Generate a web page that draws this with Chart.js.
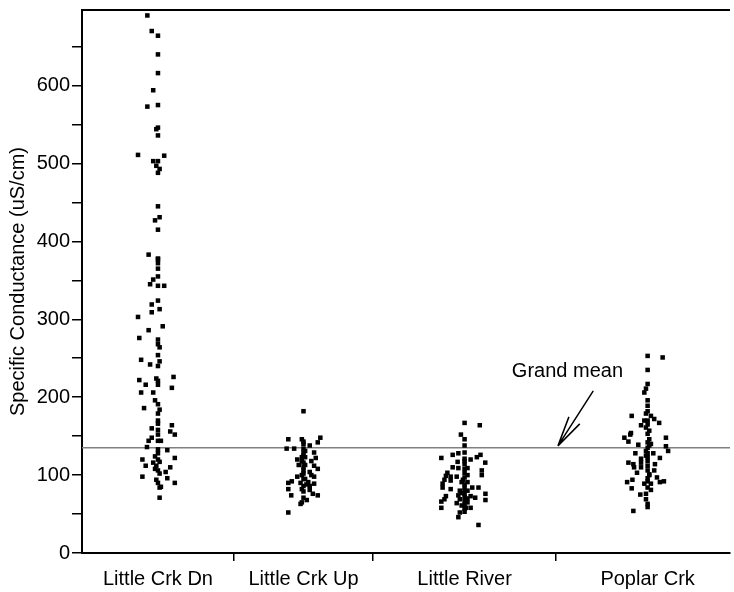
<!DOCTYPE html>
<html>
<head>
<meta charset="utf-8">
<script src="https://cdn.jsdelivr.net/npm/chart.js@4.4.0/dist/chart.umd.min.js"></script>
<style>
    html, body { margin: 0; padding: 0; background: #ffffff; }
    #wrap { width: 734px; height: 592px; }
</style>
</head>
<body>
<div id="wrap"><canvas id="conductance_chart_canvas" width="734" height="592"></canvas></div>
<script>
    'use strict';

    // sites, and the number of samples at each (column width is proportional to n)
    var categories = ['Little Crk Dn', 'Little Crk Up', 'Little River', 'Poplar Crk'];
    var group_sizes = [83, 76, 100, 100];

    // y axis
    var y_max = 697;
    var y_ticks = [0, 50, 100, 150, 200, 250, 300, 350, 400, 450, 500, 550, 600, 650];
    // the right end of the picture cuts into the last column
    var x_view_max = 354;

    var grand_mean = 135;

    // specific conductance (uS/cm) and horizontal jitter, one pair per sample
    var dn_values = [690, 670, 664, 640, 616, 594, 573, 575, 546, 544, 536, 511, 510, 503, 503, 497, 493, 488, 445, 431,
        427, 415, 383, 378, 377, 372, 365, 355, 351, 345, 343, 343, 324, 319, 313, 309, 303, 291, 286, 276,
        274, 268, 264, 254, 248, 246, 242, 240, 226, 224, 222, 221, 216, 216, 212, 206, 206, 196, 191, 186,
        184, 179, 170, 166, 164, 160, 158, 156, 152, 152, 148, 144, 144, 144, 136, 133, 132, 128, 124, 122,
        120, 120, 117, 116, 112, 112, 110, 108, 106, 104, 102, 98, 96, 94, 90, 90, 85, 84, 71];
    var dn_jitter = [-5.8, -3.4, 0, 0, 0, -2.6, -5.8, 0, 0, -0.9, 0, -10.9, 3.4, -2.6, 0, -0.9, 0.9, 0, 0, 0.9,
        -1.6, 0, -5.1, 0, 0, 0, 0, 0, -2.6, -4.3, 0, 3.4, 0, -3.4, 0.9, -3.4, -10.9, 2.6, -5.1, -10.2,
        0, 0, 0.9, 0, -9.2, 0.9, -4.3, 0, 8.5, -0.9, -10.2, 0, -6.7, 0, 7.6, -9.2, -2.6, -1.6, 0, -7.6,
        0.9, 0, 0, 0, 7.6, -3.4, 0, 6.7, 9.2, 0, -3.4, -5.1, 0, 1.6, -6.0, 0, 5.1, 0, -1.6, 9.2,
        -8.5, 0, 0.9, -2.6, -6.7, -0.9, 6.7, -1.6, 0, 4.2, 0.9, -8.5, 5.1, -0.9, 0, 9.2, 1.6, 0.9, 0.9];

    var up_values = [182, 146, 146, 148, 142, 134, 134, 134, 140, 138, 129, 129, 123, 123, 122, 120, 116, 118, 113, 113,
        112, 108, 106, 104, 100, 100, 98, 98, 95, 92, 90, 90, 91, 89, 86, 86, 82, 81, 82, 74,
        76, 74, 71, 68, 65, 63, 52, 143, 125, 110, 102, 95, 79, 88, 118, 131];
    var up_jitter = [0, -8.3, -0.9, 9.2, 7.8, -9.2, -5.1, 0, 0, 3.4, 0, 5.8, -0.9, 0.9, 6.7, -3.4, 0, 4.3, -2.6, 0.9,
        5.8, 7.8, 0, 3.4, -0.9, 4.3, -3.4, 5.8, 0.9, -6.4, -8.3, -1.6, 2.6, 5.8, 0, 3.4, -8.3, 3.4, -0.9, -6.7,
        5.1, 7.8, 0, 1.8, -0.9, -1.6, -8.3, 0, 0, 0, 0, 0, 0, 1.6, -0.9, 0.9];

    var river_values = [167, 164, 152, 146, 138, 128, 129, 126, 126, 123, 122, 121, 117, 120, 116, 114, 110, 109, 109, 106,
        103, 103, 100, 99, 98, 98, 97, 94, 89, 93, 91, 91, 84, 82, 84, 84, 84, 80, 80, 74,
        76, 73, 76, 73, 71, 68, 69, 69, 67, 66, 64, 65, 58, 61, 58, 58, 52, 53, 46, 36,
        88, 80, 72, 62, 70, 77, 108, 118, 100, 94, 57];
    var river_jitter = [0, 8.3, -2.0, 0, 0, -3.4, 0, -6.5, 8.7, 6.7, -12.7, 0, -3.8, 3.3, 11.3, 0, -6.5, -3.4, 1.6, 9.4,
        -9.4, 0, 9.4, -10.2, -7.6, -4.3, 0, -11.0, -12.0, -7.6, -1.6, 1.6, -12.0, -7.6, 0, 4.2, 7.6, -2.6, 1.6, -3.4,
        0, 3.3, 11.4, -10.2, 5.8, 11.4, -11.0, -2.6, 0, -12.7, -4.3, 1.6, -12.7, -1.6, 3.3, 0.7, -2.6, 0, -3.4, 7.6,
        0, 0, 0, 0, 1.6, -1.6, 0, 0, 1.6, -0.9, 0];

    var poplar_values = [253, 251, 235, 217, 211, 206, 196, 189, 182, 179, 176, 176, 172, 170, 164, 167, 161, 157, 154, 148,
        152, 143, 139, 153, 146, 140, 148, 137, 131, 128, 131, 128, 122, 121, 123, 116, 116, 114, 114, 112,
        110, 110, 103, 106, 101, 97, 91, 94, 91, 92, 89, 89, 83, 84, 81, 75, 76, 69, 63, 59,
        54, 142, 135, 128, 118, 106, 96, 92, 138, 125, 100, 165, 170];
    var poplar_jitter = [0, 8.2, 0, 0, -0.9, -1.8, 0, 0, 0, -0.9, -8.7, 1.8, 3.6, -1.8, -3.6, 6.3, -0.9, 0.9, -9.1, -12.7,
        -9.5, -10.5, -5.1, 0, 0.9, 1.8, 10.0, 10.0, 11.2, -6.7, -0.9, 3.1, 6.7, -3.6, 0, -10.5, -3.6, -7.8, 4.0, 0,
        -7.4, -3.6, -5.8, 3.6, 0.9, 5.1, -11.2, -8.3, 6.7, 8.9, -1.8, 1.8, -8.7, 0, 1.8, -4.0, -0.9, -0.9, 0, 0,
        -7.8, 0, 0, 0, 0, 0, 0, 0, 0.9, -0.9, 0.9, 0, 0];

    // "Grand mean" note, in data units: text baseline, arrow tail and tip
    var note_text = 'Grand mean';
    var note_at = [265.2, 226];
    var arrow_tail = [279.3, 208];
    var arrow_tip = [260, 137.5];

    var font_family = '"Liberation Sans", Arial, Helvetica, sans-serif';

    // column edges and centres from the sample counts
    var boundaries = [];
    var centers = [];
    var run = 0;
    for (var i = 0; i < group_sizes.length; i++) {
        centers.push(run + group_sizes[i] / 2);
        run += group_sizes[i];
        if (i < group_sizes.length - 1) {
            boundaries.push(run);
        }
    }

    function make_points(group_index, values, jitter) {
        var pts = [];
        for (var k = 0; k < values.length; k++) {
            pts.push({ x: centers[group_index] + jitter[k], y: values[k] });
        }
        return pts;
    }

    function point_set(label, pts) {
        return {
            type: 'scatter',
            label: label,
            data: pts,
            pointStyle: 'rect',
            pointRadius: 3.2,
            pointBackgroundColor: '#000000',
            pointBorderColor: '#000000',
            pointBorderWidth: 0,
            showLine: false,
            order: 0
        };
    }

    var note_plugin = {
        id: 'grand_mean_note',
        afterDatasetsDraw: function (chart) {
            var ctx = chart.ctx;
            var xs = chart.scales.x;
            var ys = chart.scales.y;
            var area = chart.chartArea;

            ctx.save();

            // frame line along the top
            ctx.strokeStyle = '#000000';
            ctx.lineWidth = 2;
            ctx.beginPath();
            ctx.moveTo(area.left - 1, area.top);
            ctx.lineTo(area.right, area.top);
            ctx.stroke();

            ctx.font = '20px ' + font_family;
            ctx.fillStyle = '#000000';
            ctx.textAlign = 'center';
            ctx.textBaseline = 'alphabetic';
            ctx.fillText(note_text, xs.getPixelForValue(note_at[0]), ys.getPixelForValue(note_at[1]));

            var x0 = xs.getPixelForValue(arrow_tail[0]);
            var y0 = ys.getPixelForValue(arrow_tail[1]);
            var x1 = xs.getPixelForValue(arrow_tip[0]);
            var y1 = ys.getPixelForValue(arrow_tip[1]);
            var ang = Math.atan2(y0 - y1, x0 - x1);
            var head = 31;
            ctx.lineWidth = 1.5;
            ctx.beginPath();
            ctx.moveTo(x0, y0);
            ctx.lineTo(x1, y1);
            ctx.moveTo(x1, y1);
            ctx.lineTo(x1 + head * Math.cos(ang - 0.21), y1 + head * Math.sin(ang - 0.21));
            ctx.moveTo(x1, y1);
            ctx.lineTo(x1 + head * Math.cos(ang + 0.21), y1 + head * Math.sin(ang + 0.21));
            ctx.stroke();

            ctx.restore();
        }
    };

    Chart.defaults.font.family = font_family;
    Chart.defaults.color = '#000000';

    var chart_instance = new Chart(document.getElementById('conductance_chart_canvas').getContext('2d'), {
        type: 'scatter',
        data: {
            datasets: [
                point_set(categories[0], make_points(0, dn_values, dn_jitter)),
                point_set(categories[1], make_points(1, up_values, up_jitter)),
                point_set(categories[2], make_points(2, river_values, river_jitter)),
                point_set(categories[3], make_points(3, poplar_values, poplar_jitter)),
                {
                    type: 'line',
                    label: 'Grand mean',
                    data: [{ x: 0, y: grand_mean }, { x: x_view_max, y: grand_mean }],
                    borderColor: '#808080',
                    borderWidth: 1.5,
                    pointRadius: 0,
                    fill: false,
                    order: 1
                }
            ]
        },
        options: {
            responsive: false,
            animation: false,
            devicePixelRatio: 1,
            layout: { padding: { top: 10, right: 0, bottom: 0, left: 0 } },
            plugins: {
                legend: { display: false },
                tooltip: { enabled: false }
            },
            scales: {
                x: {
                    type: 'linear',
                    min: 0,
                    max: x_view_max,
                    afterBuildTicks: function (s) {
                        var vals = boundaries.concat(centers).sort(function (a, b) { return a - b; });
                        s.ticks = vals.map(function (v) { return { value: v }; });
                    },
                    afterFit: function (s) {
                        s.height = 39;
                        s.paddingLeft = 0;
                        s.paddingRight = 0;
                    },
                    border: { display: true, color: '#000000', width: 2 },
                    grid: {
                        drawOnChartArea: false,
                        tickLength: 8,
                        lineWidth: 1.5,
                        tickColor: function (c) {
                            return (c.tick && centers.indexOf(c.tick.value) >= 0) ? 'rgba(0,0,0,0)' : '#000000';
                        }
                    },
                    ticks: {
                        autoSkip: false,
                        maxRotation: 0,
                        minRotation: 0,
                        padding: 6,
                        font: { size: 20 },
                        color: '#000000',
                        callback: function (value) {
                            var idx = centers.indexOf(value);
                            return idx >= 0 ? categories[idx] : '';
                        }
                    }
                },
                y: {
                    min: 0,
                    max: y_max,
                    afterBuildTicks: function (s) {
                        s.ticks = y_ticks.map(function (v) { return { value: v }; });
                    },
                    afterFit: function (s) {
                        s.width = 82;
                        s.paddingTop = 0;
                        s.paddingBottom = 0;
                    },
                    border: { display: true, color: '#000000', width: 2 },
                    grid: {
                        drawOnChartArea: false,
                        tickLength: 10,
                        lineWidth: 1.5,
                        tickColor: '#000000'
                    },
                    ticks: {
                        padding: 2,
                        font: { size: 20 },
                        color: '#000000',
                        callback: function (value) {
                            return value % 100 === 0 ? String(value) : '';
                        }
                    },
                    title: {
                        display: true,
                        text: 'Specific Conductance (uS/cm)',
                        font: { size: 20 },
                        color: '#000000',
                        padding: { top: 6, bottom: 0 }
                    }
                }
            }
        },
        plugins: [note_plugin]
    });
</script>
</body>
</html>
